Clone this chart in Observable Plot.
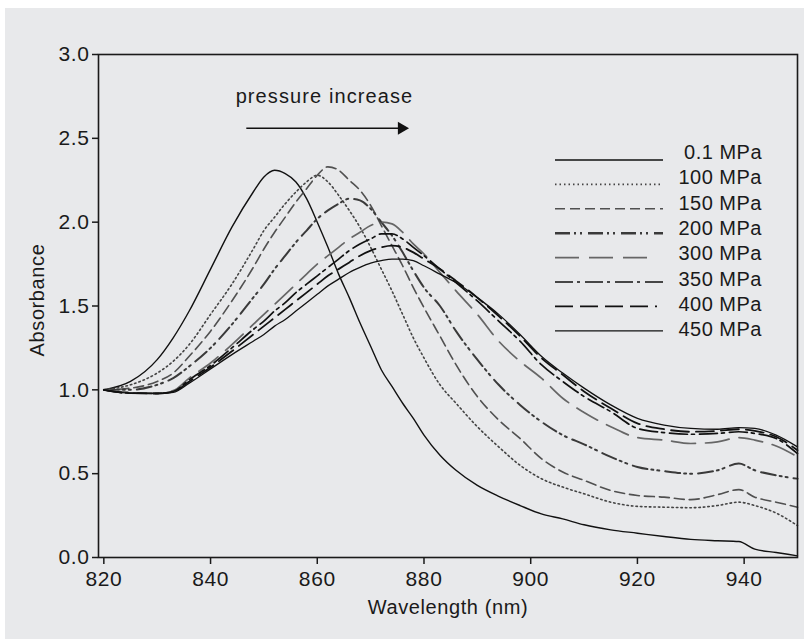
<!DOCTYPE html>
<html>
<head>
<meta charset="utf-8">
<script src="https://cdn.jsdelivr.net/npm/d3@7"></script>
<script src="https://cdn.jsdelivr.net/npm/@observablehq/plot@0.6"></script>
<style>
  html, body { margin: 0; padding: 0; background: #ffffff; }
  #panel { position: absolute; left: 5px; top: 8px; width: 799px; height: 631px; background: #e8e9eb; }
  #chart { position: absolute; left: 0; top: 0; }
  #chart svg { font-family: "Liberation Sans", Arial, sans-serif; }
</style>
</head>
<body>
<div id="panel"></div>
<div id="chart"></div>
<script>
// ---- data ----
const wavelengths = [820, 825, 830, 833, 836, 840, 844, 848, 850, 852, 854, 856, 858, 860, 862, 864, 866, 868, 870, 872, 874, 876, 878, 880, 883, 886, 890, 894, 898, 902, 906, 910, 915, 920, 925, 930, 935, 939, 942, 946, 950];

const seriesNames = ["0.1 MPa", "100 MPa", "150 MPa", "200 MPa", "300 MPa", "350 MPa", "400 MPa", "450 MPa"];

const abs_0_1 = [1.00, 1.05, 1.18, 1.31, 1.47, 1.72, 1.97, 2.18, 2.27, 2.31, 2.29, 2.24, 2.14, 2.00, 1.85, 1.69, 1.55, 1.40, 1.26, 1.12, 1.02, 0.92, 0.83, 0.73, 0.61, 0.52, 0.43, 0.365, 0.31, 0.26, 0.23, 0.195, 0.165, 0.145, 0.125, 0.108, 0.10, 0.095, 0.05, 0.03, 0.01];
const abs_100 = [1.00, 1.03, 1.10, 1.17, 1.27, 1.45, 1.63, 1.84, 1.95, 2.03, 2.11, 2.18, 2.24, 2.28, 2.24, 2.16, 2.07, 1.97, 1.85, 1.72, 1.59, 1.45, 1.31, 1.19, 1.03, 0.92, 0.78, 0.66, 0.55, 0.47, 0.42, 0.38, 0.33, 0.305, 0.30, 0.297, 0.31, 0.33, 0.31, 0.265, 0.19];
const abs_150 = [1.00, 1.01, 1.05, 1.10, 1.20, 1.35, 1.53, 1.73, 1.84, 1.94, 2.03, 2.12, 2.20, 2.28, 2.33, 2.31, 2.25, 2.19, 2.10, 1.98, 1.86, 1.74, 1.61, 1.49, 1.32, 1.15, 0.96, 0.82, 0.71, 0.59, 0.51, 0.46, 0.40, 0.37, 0.36, 0.345, 0.375, 0.405, 0.36, 0.33, 0.30];
const abs_200 = [1.00, 1.00, 1.03, 1.07, 1.14, 1.25, 1.39, 1.55, 1.63, 1.72, 1.80, 1.88, 1.95, 2.02, 2.07, 2.11, 2.14, 2.13, 2.08, 2.00, 1.92, 1.82, 1.71, 1.61, 1.50, 1.35, 1.18, 1.03, 0.91, 0.81, 0.73, 0.675, 0.60, 0.54, 0.515, 0.50, 0.52, 0.56, 0.52, 0.49, 0.47];
const abs_300 = [1.00, 0.985, 0.98, 0.995, 1.07, 1.16, 1.27, 1.39, 1.45, 1.51, 1.57, 1.63, 1.69, 1.75, 1.80, 1.85, 1.90, 1.94, 1.98, 2.00, 1.99, 1.94, 1.87, 1.81, 1.70, 1.59, 1.45, 1.29, 1.17, 1.07, 0.95, 0.865, 0.78, 0.715, 0.70, 0.68, 0.69, 0.715, 0.70, 0.665, 0.60];
const abs_350 = [1.00, 0.98, 0.978, 0.99, 1.06, 1.145, 1.25, 1.36, 1.41, 1.47, 1.52, 1.58, 1.63, 1.68, 1.73, 1.78, 1.83, 1.87, 1.90, 1.93, 1.93, 1.90, 1.85, 1.80, 1.72, 1.64, 1.53, 1.41, 1.29, 1.15, 1.05, 0.96, 0.87, 0.77, 0.745, 0.735, 0.74, 0.75, 0.74, 0.71, 0.62];
const abs_400 = [1.00, 0.98, 0.978, 0.988, 1.05, 1.135, 1.23, 1.33, 1.38, 1.43, 1.48, 1.53, 1.58, 1.63, 1.68, 1.72, 1.76, 1.80, 1.83, 1.85, 1.86, 1.85, 1.82, 1.78, 1.72, 1.65, 1.55, 1.44, 1.32, 1.19, 1.09, 0.99, 0.89, 0.80, 0.765, 0.75, 0.755, 0.765, 0.755, 0.72, 0.64];
const abs_450 = [1.00, 0.98, 0.978, 0.985, 1.04, 1.125, 1.21, 1.29, 1.33, 1.38, 1.42, 1.47, 1.52, 1.57, 1.62, 1.66, 1.70, 1.73, 1.755, 1.77, 1.78, 1.78, 1.77, 1.74, 1.69, 1.64, 1.55, 1.45, 1.33, 1.20, 1.10, 1.01, 0.91, 0.83, 0.79, 0.77, 0.765, 0.775, 0.77, 0.73, 0.66];

const xTicks = [820, 840, 860, 880, 900, 920, 940];
const yTicks = [0, 0.5, 1.0, 1.5, 2.0, 2.5, 3.0];

const annotationText = "pressure increase";
const xLabel = "Wavelength (nm)";
const yLabel = "Absorbance";

// ---- styles ----
const seriesValues = [abs_0_1, abs_100, abs_150, abs_200, abs_300, abs_350, abs_400, abs_450];
const styles = [
  {stroke: "#111", width: 1.4, dash: null},
  {stroke: "#444", width: 1.6, dash: "1.5,3"},
  {stroke: "#505050", width: 1.6, dash: "10,5"},
  {stroke: "#3a3a3a", width: 2.0, dash: "15,4,2,4,2,6"},
  {stroke: "#666", width: 1.7, dash: "24,10"},
  {stroke: "#111", width: 1.7, dash: "18,4,3,5"},
  {stroke: "#111", width: 1.8, dash: "18,7"},
  {stroke: "#111", width: 1.3, dash: null}
];

const rows = seriesNames.flatMap((name, i) =>
  wavelengths.map((w, j) => ({name, i, w, a: seriesValues[i][j]})));

const FONT = "\"Liberation Sans\", Arial, sans-serif";

// annotation anchor (data units)
const annot = {x: 844.7, y: 2.75, ax1: 846.7, ax2: 875.9, ay: 2.56, tip: 877.2};

const plot = Plot.plot({
  width: 804,
  height: 639,
  marginLeft: 98,
  marginRight: 7,
  marginTop: 54,
  marginBottom: 82,
  style: {background: "transparent", fontFamily: FONT, color: "#1a1a1a", overflow: "visible"},
  x: {domain: [819, 950]},
  y: {domain: [0, 3]},
  marks: [
    ...seriesNames.map((name, i) => Plot.line(rows.filter(d => d.i === i), {
      x: "w", y: "a",
      stroke: styles[i].stroke,
      strokeWidth: styles[i].width,
      strokeDasharray: styles[i].dash,
      curve: "monotone-x"
    })),
    Plot.frame({stroke: "#1a1a1a", strokeWidth: 1.6}),
    Plot.axisX({ticks: xTicks, tickSize: 7, tickPadding: 7, tickFormat: d => String(d), fontSize: 21, label: null, stroke: "#1a1a1a", strokeWidth: 1.5}),
    Plot.axisY({ticks: yTicks, tickSize: 6, tickPadding: 3, tickFormat: d3.format(".1f"), fontSize: 21, label: null, stroke: "#1a1a1a", strokeWidth: 1.5}),
    Plot.link([annotationText], {x1: annot.ax1, x2: annot.ax2, y1: annot.ay, y2: annot.ay, stroke: "#111", strokeWidth: 1.5}),
    Plot.dot([annotationText], {x: annot.tip - 1.4, y: annot.ay, symbol: "triangle", rotate: 90, r: 4.8, fill: "#111", stroke: "none"})
  ]
});

document.getElementById("chart").appendChild(plot);

// letter spacing tweak for the wider reference type
d3.select(plot).selectAll("text").style("letter-spacing", "0.6px");

const svg = d3.select(plot);

// annotation text (added after the spacing tweak so it keeps its own spacing)
const annotMark = Plot.text([annotationText], {x: annot.x, y: annot.y, textAnchor: "start", fontSize: 20, fill: "#1a1a1a"});
// render annotation through the same scales
const annotSvg = Plot.plot({
  width: 804, height: 639, marginLeft: 98, marginRight: 7, marginTop: 54, marginBottom: 82,
  style: {background: "transparent", fontFamily: FONT, overflow: "visible"},
  x: {domain: [819, 950], axis: null}, y: {domain: [0, 3], axis: null},
  marks: [annotMark]
});
d3.select(annotSvg).selectAll("text").style("letter-spacing", "1.1px");
d3.select(annotSvg).selectAll("g[aria-label='text']").each(function() { plot.appendChild(this); });

// ---- axis titles ----
svg.append("text")
  .attr("x", 448).attr("y", 607)
  .attr("text-anchor", "middle").attr("dy", "0.35em")
  .attr("font-family", FONT).attr("font-size", 20).attr("fill", "#1a1a1a")
  .style("letter-spacing", "0.6px")
  .text(xLabel);
svg.append("text")
  .attr("transform", "translate(37,300) rotate(-90)")
  .attr("text-anchor", "middle").attr("dy", "0.35em")
  .attr("font-family", FONT).attr("font-size", 20).attr("fill", "#1a1a1a")
  .style("letter-spacing", "0.6px")
  .text(yLabel);

// ---- legend ----
const legend = svg.append("g").attr("class", "legend");
const legLineY0 = 160, legLineStep = 24.4, legTextY0 = 152, legTextStep = 25.3;
const legEnds = [663, 663, 663, 663, 653, 663, 657, 663];
seriesNames.forEach((name, i) => {
  legend.append("line")
    .attr("x1", 555).attr("x2", legEnds[i])
    .attr("y1", legLineY0 + i * legLineStep).attr("y2", legLineY0 + i * legLineStep)
    .attr("stroke", styles[i].stroke)
    .attr("stroke-width", styles[i].width + (i === 3 ? 0.6 : 0))
    .attr("stroke-dasharray", styles[i].dash);
  legend.append("text")
    .attr("x", 762).attr("y", legTextY0 + i * legTextStep)
    .attr("text-anchor", "end")
    .attr("dy", "0.35em")
    .attr("font-family", FONT)
    .attr("font-size", 20)
    .attr("fill", "#1a1a1a")
    .style("letter-spacing", "0.5px")
    .text(name);
});
</script>
</body>
</html>
